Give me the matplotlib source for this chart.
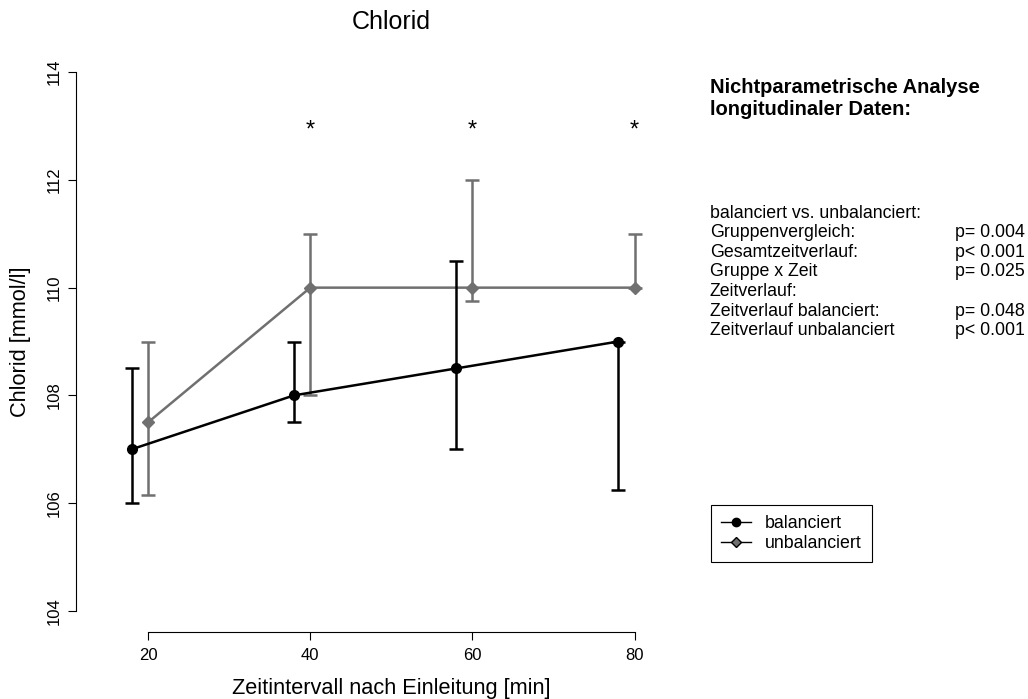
import matplotlib
matplotlib.use("Agg")
import matplotlib.pyplot as plt
from matplotlib.lines import Line2D

plt.rcParams['font.family'] = ['Liberation Sans', 'DejaVu Sans']

# Chlorid (mmol/l) ueber die Zeit, Median mit Fehlerbalken
zeit_bal = [18, 38, 58, 78]
cl_bal = [107.0, 108.0, 108.5, 109.0]
bal_unten = [106.0, 107.5, 107.0, 106.25]
bal_oben = [108.5, 109.0, 110.5, 109.0]

zeit_unbal = [20, 40, 60, 80]
cl_unbal = [107.5, 110.0, 110.0, 110.0]
unbal_unten = [106.15, 108.0, 109.75, 110.0]
unbal_oben = [109.0, 111.0, 112.0, 111.0]

sig_zeit = [40, 60, 80]
sig_hoehe = 113

x_ticks = [20, 40, 60, 80]
y_ticks = [104, 106, 108, 110, 112, 114]

test_namen = ["balanciert vs. unbalanciert:", "Gruppenvergleich:", "Gesamtzeitverlauf:",
              "Gruppe x Zeit", "Zeitverlauf:", "Zeitverlauf balanciert:",
              "Zeitverlauf unbalanciert"]
test_p = ["", "p= 0.004", "p< 0.001", "p= 0.025", "", "p= 0.048", "p< 0.001"]

W, H = 1028, 699
grau = '#707070'


def fx(px):
    return px / W


def fy(py):
    return 1 - py / H


fig = plt.figure(figsize=(W / 100, H / 100), dpi=100)
ax = fig.add_axes([fx(76), fy(632.3), (706.7 - 76) / W, (632.3 - 50.7) / H])

err_unbal = [[m - u for m, u in zip(cl_unbal, unbal_unten)],
             [o - m for m, o in zip(cl_unbal, unbal_oben)]]
err_bal = [[m - u for m, u in zip(cl_bal, bal_unten)],
           [o - m for m, o in zip(cl_bal, bal_oben)]]

ax.errorbar(zeit_unbal, cl_unbal, yerr=err_unbal, color=grau, lw=1.8,
            marker='D', ms=6.5, mfc=grau, mec=grau, capsize=4.7, capthick=1.8,
            elinewidth=1.8, zorder=2)
ax.errorbar(zeit_bal, cl_bal, yerr=err_bal, color='black', lw=1.8,
            marker='o', ms=7, mfc='black', mec='black', capsize=4.7, capthick=1.8,
            elinewidth=1.8, zorder=3)

for xs in sig_zeit:
    ax.annotate('*', (xs, sig_hoehe), xytext=(0, -7.6), textcoords='offset points',
                ha='center', va='baseline', fontsize=17)

ax.set_xlim(11.1, 88.9)
ax.set_ylim(103.6, 114.4)
ax.set_xticks(x_ticks)
ax.set_yticks(y_ticks)
for s in ['top', 'right']:
    ax.spines[s].set_visible(False)
ax.spines['left'].set_bounds(104, 114)
ax.spines['bottom'].set_bounds(20, 80)
for s in ['left', 'bottom']:
    ax.spines[s].set_linewidth(0.8)
ax.tick_params(direction='out', length=6, width=0.8, labelsize=12)
ax.tick_params(axis='x', pad=5.4)
ax.tick_params(axis='y', pad=4.4, labelrotation=90)
for lab in ax.get_yticklabels():
    lab.set_va('center')

ax.set_title('Chlorid', fontsize=18, pad=15.5)
ax.set_xlabel('Zeitintervall nach Einleitung [min]', fontsize=15.7)
ax.set_ylabel('Chlorid [mmol/l]', fontsize=15.7)
ax.xaxis.set_label_coords(0.5, (632.3 - 678) / (632.3 - 50.7))
ax.yaxis.set_label_coords((30.6 - 76) / (706.7 - 76), 0.5)
ax.xaxis.label.set_va('top')

# Testergebnisse rechts neben dem Diagramm
fig.text(fx(710), fy(93), 'Nichtparametrische Analyse', fontsize=14.5,
         fontweight='bold', va='baseline')
fig.text(fx(710), fy(115), 'longitudinaler Daten:', fontsize=14.5,
         fontweight='bold', va='baseline')
for i, (name, p) in enumerate(zip(test_namen, test_p)):
    yb = 218 + i * 19.5
    fig.text(fx(710), fy(yb), name, fontsize=12.8, va='baseline')
    if p:
        fig.text(fx(955), fy(yb), p, fontsize=12.8, va='baseline')

handles = [Line2D([], [], color='black', lw=1, marker='o', ms=6, mfc='black', mec='black'),
           Line2D([], [], color='black', lw=1, marker='D', ms=5, mfc=grau, mec='black')]
leg = fig.legend(handles, ['balanciert', 'unbalanciert'], loc='upper left',
                 bbox_to_anchor=(fx(711), fy(505)), frameon=True, fancybox=False,
                 edgecolor='black', framealpha=1, fontsize=12.8, handlelength=1.7,
                 handletextpad=0.8, borderpad=0.55, labelspacing=0.2, borderaxespad=0)
leg.get_frame().set_linewidth(0.8)

fig.savefig('out.png', dpi=100)
